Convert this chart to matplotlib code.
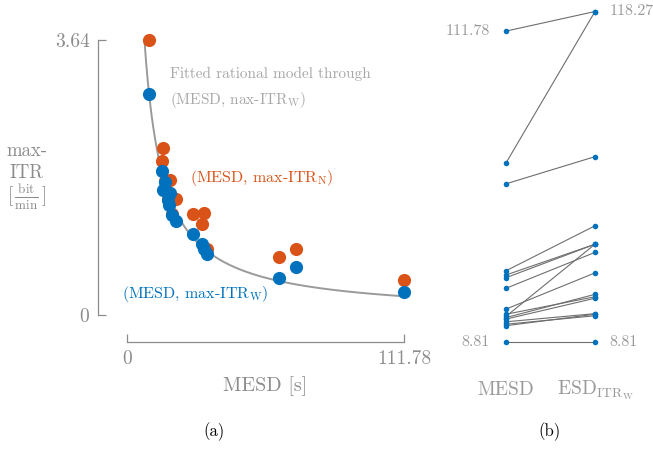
import numpy as np
import matplotlib.pyplot as plt

plt.rcParams['font.family'] = 'serif'
plt.rcParams['font.serif'] = ['cmr10', 'DejaVu Serif']
plt.rcParams['mathtext.fontset'] = 'cm'
plt.rcParams['axes.unicode_minus'] = False

# one entry per subject, sorted by MESD [s]
mesd = [8.81, 14.2, 14.7, 15.5, 16.4, 16.9, 17.3, 18.0, 19.7, 26.6, 30.1, 31.0, 32.4, 61.2, 68.1, 111.78]
itr_w = [2.92, 1.91, 1.66, 1.76, 1.52, 1.46, 1.61, 1.32, 1.24, 1.07, 0.94, 0.88, 0.81, 0.49, 0.63, 0.31]
itr_n = [3.64, 2.04, 2.21, 1.78, 1.54, 1.48, 1.79, 1.34, 1.53, 1.34, 1.20, 1.35, 0.87, 0.77, 0.87, 0.46]
esd_itr_w = [8.81, 18.0, 17.5, 18.2, 23.3, 24.6, 41.2, 23.8, 31.7, 38.5, 41.2, 41.2, 47.3, 70.2, 118.27, 118.27]

# rational model y = a / (x + b) fitted through (MESD, max-ITR_W)
fit_a = 27.86
fit_b = 0.62

ymax = 3.64
orange = '#D95319'
blue = '#0072BD'
gray = '#8c8c8c'

fig = plt.figure(figsize=(6.53, 4.49), dpi=100)

# ---- (a) scatter with range frame ----
ax = fig.add_axes([127 / 653, 1 - 315 / 449, 277 / 653, 275 / 449])
xs = np.linspace(fit_a / ymax - fit_b, max(mesd), 300)
ax.plot(xs, fit_a / (xs + fit_b), color='#9a9a9a', lw=1.4, zorder=1)
ax.scatter(mesd, itr_n, s=90, color=orange, zorder=2, clip_on=False, linewidths=0)
ax.scatter(mesd, itr_w, s=90, color=blue, zorder=3, clip_on=False, linewidths=0)
ax.set_xlim(0, max(mesd))
ax.set_ylim(0, ymax)

for s in ['top', 'right']:
    ax.spines[s].set_visible(False)
ax.spines['left'].set_position(('outward', 21))
ax.spines['bottom'].set_position(('outward', 19.5))
ax.spines['left'].set_bounds(0, ymax)
ax.spines['bottom'].set_bounds(0, max(mesd))
for s in ['left', 'bottom']:
    ax.spines[s].set_color(gray)
    ax.spines[s].set_linewidth(0.9)
ax.set_yticks([0, ymax])
ax.set_yticklabels(['0', '3.64'])
ax.set_xticks([0, max(mesd)])
ax.set_xticklabels(['0', '111.78'])
ax.tick_params(direction='in', length=6, width=0.9, color=gray,
               labelcolor=gray, labelsize=14, pad=6)
ax.set_xlabel('MESD [s]', color=gray, fontsize=14.5, labelpad=6)

fig.text(27 / 653, 1 - 151 / 449, 'max-', color=gray, fontsize=13.5, ha='center', va='center')
fig.text(27 / 653, 1 - 173 / 449, 'ITR', color=gray, fontsize=13.5, ha='center', va='center')
fig.text(27 / 653, 1 - 197 / 449, r'$[\,\frac{\mathrm{bit}}{\mathrm{min}}\,]$', color=gray,
         fontsize=13.5, ha='center', va='center')

ax.text(170 / 653, 1 - 74 / 449, 'Fitted rational model through', transform=fig.transFigure,
        color='#a8a8a8', fontsize=11, va='center')
ax.text(170 / 653, 1 - 100 / 449, r'(MESD, nax-ITR$_\mathrm{W}$)', transform=fig.transFigure,
        color='#a8a8a8', fontsize=11, va='center')
ax.text(190 / 653, 1 - 178 / 449, r'(MESD, max-ITR$_\mathrm{N}$)', transform=fig.transFigure,
        color=orange, fontsize=11.5, va='center')
ax.text(122 / 653, 1 - 294 / 449, r'(MESD, max-ITR$_\mathrm{W}$)', transform=fig.transFigure,
        color=blue, fontsize=11.5, va='center')
fig.text(214 / 653, 1 - 432 / 449, '(a)', fontsize=12, ha='center', va='center')

# ---- (b) slope chart MESD -> ESD_ITRW ----
bx = fig.add_axes([506 / 653, 1 - 342 / 449, 89 / 653, 330.5 / 449])
for m, e in zip(mesd, esd_itr_w):
    bx.plot([0, 1], [m, e], color='#6e6e6e', lw=0.8, zorder=1, clip_on=False)
bx.scatter(np.zeros(len(mesd)), mesd, s=16, color=blue, zorder=2, clip_on=False, linewidths=0)
bx.scatter(np.ones(len(esd_itr_w)), esd_itr_w, s=16, color=blue, zorder=2, clip_on=False, linewidths=0)
bx.set_xlim(0, 1)
bx.set_ylim(min(mesd), max(esd_itr_w))
bx.axis('off')

lab = dict(color='#999999', fontsize=11.5, va='center')
bx.text(-0.18, max(mesd), f'{max(mesd):.2f}', ha='right', **lab)
bx.text(-0.18, min(mesd), f'{min(mesd):.2f}', ha='right', **lab)
bx.text(1.16, max(esd_itr_w), f'{max(esd_itr_w):.2f}', ha='left', **lab)
bx.text(1.16, min(esd_itr_w), f'{min(esd_itr_w):.2f}', ha='left', **lab)
fig.text(506 / 653, 1 - 390 / 449, 'MESD', color='#999999', fontsize=14, ha='center', va='center')
fig.text(595 / 653, 1 - 390 / 449, r'ESD$_{\mathrm{ITR}_\mathrm{W}}$', color='#999999',
         fontsize=14, ha='center', va='center')
fig.text(550 / 653, 1 - 432 / 449, '(b)', fontsize=12, ha='center', va='center')

fig.savefig('out.png', dpi=100)
